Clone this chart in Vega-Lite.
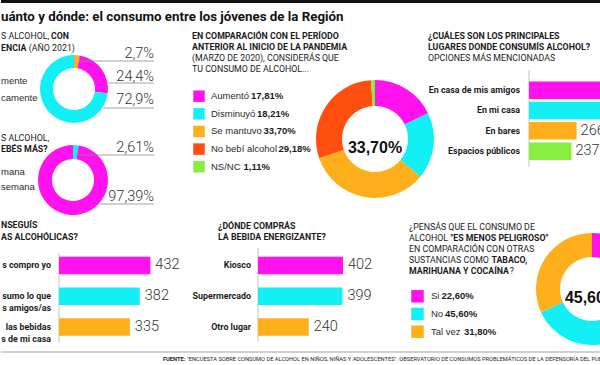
{
"$schema": "https://vega.github.io/schema/vega-lite/v6.json",
"padding": 0,
"background": "#ffffff",
"spacing": 0,
"config": {
 "view": {"stroke": null},
 "axis": {"disable": true},
 "legend": {"disable": true},
 "locale": {"number": {"decimal": ",", "thousands": ".", "grouping": [3], "currency": ["", "%"]}},
 "text": {"align": "left", "baseline": "middle", "color": "#1c1c1c", "font": "Roboto", "fontSize": 8.8},
 "concat": {"spacing": 0}
},
"datasets": {
 "one": [{}],
 "frecuencia": [{"i":1,"cat":"otra","pct":2.7},{"i":2,"cat":"mente","pct":24.4},{"i":3,"cat":"camente","pct":72.9}],
 "cuando": [{"i":1,"cat":"mana","pct":2.61},{"i":2,"cat":"semana","pct":97.39}],
 "pandemia": [{"i":1,"cat":"Aumentó","pct":17.81},{"i":2,"cat":"Disminuyó","pct":18.21},{"i":3,"cat":"Se mantuvo","pct":33.70},{"i":4,"cat":"No bebí alcohol","pct":29.18},{"i":5,"cat":"NS/NC","pct":1.11}],
 "lugares": [{"i":1,"cat":"En casa de mis amigos","n":512},{"i":2,"cat":"En mi casa","n":468},{"i":3,"cat":"En bares","n":266},{"i":4,"cat":"Espacios públicos","n":237}],
 "consigue": [{"i":1,"cat":"s compro yo","n":432},{"i":2,"cat":"sumo lo que\ns amigos/as","n":382},{"i":3,"cat":"las bebidas\ns de mi casa","n":335}],
 "energizante": [{"i":1,"cat":"Kiosco","n":402},{"i":2,"cat":"Supermercado","n":399},{"i":3,"cat":"Otro lugar","n":240}],
 "peligro": [{"i":1,"cat":"Si","pct":22.6},{"i":2,"cat":"No","pct":45.6},{"i":3,"cat":"Tal vez","pct":31.8}]
},
"vconcat": [
 {"width": 600, "height": 28, "data": {"name": "one"},
  "layer": [
   {"mark": {"type": "rect", "color": "#111111"},
    "encoding": {"x": {"datum": 0, "type": "quantitative", "scale": {"domain": [0,600], "nice": false, "zero": false}}, "x2": {"datum": 600},
                 "y": {"datum": 0, "type": "quantitative", "scale": {"domain": [0,28], "nice": false, "zero": false, "reverse": true}}, "y2": {"datum": 3}}},
   {"mark": {"type": "text", "text": "uánto y dónde: el consumo entre los jóvenes de la Región", "fontWeight": "bold", "fontSize": 13.3, "color": "#111111"},
    "encoding": {"x": {"datum": 0, "type": "quantitative", "scale": {"domain": [0,600], "nice": false, "zero": false}},
                 "y": {"datum": 17, "type": "quantitative", "scale": {"domain": [0,28], "nice": false, "zero": false, "reverse": true}}}}
  ]},
 {"hconcat": [
   {"width": 183, "height": 190, "data": {"name": "one"},
    "resolve": {"scale": {"color": "independent", "theta": "independent"}},
    "layer": [
     {"mark": {"type": "text", "text": "S ALCOHOL,"}, "encoding": {"x": {"datum": 0, "type": "quantitative", "scale": {"domain": [0,183], "nice": false, "zero": false}}, "y": {"datum": 8, "type": "quantitative", "scale": {"domain": [0,190], "nice": false, "zero": false, "reverse": true}}}},
     {"mark": {"type": "text", "text": "CON", "fontWeight": "bold"}, "encoding": {"x": {"datum": 50, "type": "quantitative", "scale": {"domain": [0,183], "nice": false, "zero": false}}, "y": {"datum": 8, "type": "quantitative", "scale": {"domain": [0,190], "nice": false, "zero": false, "reverse": true}}}},
     {"mark": {"type": "text", "text": "ENCIA", "fontWeight": "bold"}, "encoding": {"x": {"datum": 0, "type": "quantitative", "scale": {"domain": [0,183], "nice": false, "zero": false}}, "y": {"datum": 20, "type": "quantitative", "scale": {"domain": [0,190], "nice": false, "zero": false, "reverse": true}}}},
     {"mark": {"type": "text", "text": "(AÑO 2021)"}, "encoding": {"x": {"datum": 27.8, "type": "quantitative", "scale": {"domain": [0,183], "nice": false, "zero": false}}, "y": {"datum": 20, "type": "quantitative", "scale": {"domain": [0,190], "nice": false, "zero": false, "reverse": true}}}},
     {"data": {"name": "frecuencia"}, "mark": {"type": "arc", "outerRadius": 34, "innerRadius": 21},
      "encoding": {"x": {"datum": 73, "type": "quantitative", "scale": {"domain": [0,183], "nice": false, "zero": false}}, "y": {"datum": 61, "type": "quantitative", "scale": {"domain": [0,190], "nice": false, "zero": false, "reverse": true}},
       "theta": {"field": "pct", "type": "quantitative", "stack": true}, "order": {"field": "i", "type": "quantitative"},
       "color": {"field": "cat", "type": "nominal", "scale": {"domain": ["otra","mente","camente"], "range": ["#FFAE1C","#FF12EE","#12F0F6"]}}}},
     {"data": {"name": "frecuencia"}, "transform": [{"filter": "datum.i == 2"}], "mark": {"type": "text", "font": "Liberation Sans", "fontSize": 9.5, "color": "#2a2a2a"}, "encoding": {"x": {"datum": 0, "type": "quantitative", "scale": {"domain": [0,183], "nice": false, "zero": false}}, "y": {"datum": 53, "type": "quantitative", "scale": {"domain": [0,190], "nice": false, "zero": false, "reverse": true}}, "text": {"field": "cat"}}},
     {"data": {"name": "frecuencia"}, "transform": [{"filter": "datum.i == 3"}], "mark": {"type": "text", "font": "Liberation Sans", "fontSize": 9.5, "color": "#2a2a2a"}, "encoding": {"x": {"datum": 0, "type": "quantitative", "scale": {"domain": [0,183], "nice": false, "zero": false}}, "y": {"datum": 70, "type": "quantitative", "scale": {"domain": [0,190], "nice": false, "zero": false, "reverse": true}}, "text": {"field": "cat"}}},
     {"data": {"name": "frecuencia"}, "transform": [{"filter": "datum.i == 1"}], "mark": {"type": "text", "font": "Roboto", "fontWeight": 300, "fontSize": 14.5, "align": "right", "color": "#333333"}, "encoding": {"x": {"datum": 153, "type": "quantitative", "scale": {"domain": [0,183], "nice": false, "zero": false}}, "y": {"datum": 26, "type": "quantitative", "scale": {"domain": [0,190], "nice": false, "zero": false, "reverse": true}}, "text": {"field": "pct", "type": "quantitative", "format": "$.1f"}}},
     {"data": {"name": "frecuencia"}, "transform": [{"filter": "datum.i == 2"}], "mark": {"type": "text", "font": "Roboto", "fontWeight": 300, "fontSize": 14.5, "align": "right", "color": "#333333"}, "encoding": {"x": {"datum": 153, "type": "quantitative", "scale": {"domain": [0,183], "nice": false, "zero": false}}, "y": {"datum": 49, "type": "quantitative", "scale": {"domain": [0,190], "nice": false, "zero": false, "reverse": true}}, "text": {"field": "pct", "type": "quantitative", "format": "$.1f"}}},
     {"data": {"name": "frecuencia"}, "transform": [{"filter": "datum.i == 3"}], "mark": {"type": "text", "font": "Roboto", "fontWeight": 300, "fontSize": 14.5, "align": "right", "color": "#333333"}, "encoding": {"x": {"datum": 153, "type": "quantitative", "scale": {"domain": [0,183], "nice": false, "zero": false}}, "y": {"datum": 72, "type": "quantitative", "scale": {"domain": [0,190], "nice": false, "zero": false, "reverse": true}}, "text": {"field": "pct", "type": "quantitative", "format": "$.1f"}}},
     {"mark": {"type": "rule", "color": "#8c8c8c", "strokeWidth": 0.8}, "encoding": {"x": {"datum": 78, "type": "quantitative", "scale": {"domain": [0,183], "nice": false, "zero": false}}, "x2": {"datum": 153}, "y": {"datum": 33, "type": "quantitative", "scale": {"domain": [0,190], "nice": false, "zero": false, "reverse": true}}}},
     {"mark": {"type": "rule", "color": "#8c8c8c", "strokeWidth": 0.8}, "encoding": {"x": {"datum": 107, "type": "quantitative", "scale": {"domain": [0,183], "nice": false, "zero": false}}, "x2": {"datum": 153}, "y": {"datum": 55, "type": "quantitative", "scale": {"domain": [0,190], "nice": false, "zero": false, "reverse": true}}}},
     {"mark": {"type": "rule", "color": "#8c8c8c", "strokeWidth": 0.8}, "encoding": {"x": {"datum": 102, "type": "quantitative", "scale": {"domain": [0,183], "nice": false, "zero": false}}, "x2": {"datum": 153}, "y": {"datum": 80, "type": "quantitative", "scale": {"domain": [0,190], "nice": false, "zero": false, "reverse": true}}}},
     {"mark": {"type": "text", "text": "S ALCOHOL,"}, "encoding": {"x": {"datum": 0, "type": "quantitative", "scale": {"domain": [0,183], "nice": false, "zero": false}}, "y": {"datum": 110, "type": "quantitative", "scale": {"domain": [0,190], "nice": false, "zero": false, "reverse": true}}}},
     {"mark": {"type": "text", "text": "EBÉS MÁS?", "fontWeight": "bold"}, "encoding": {"x": {"datum": 0, "type": "quantitative", "scale": {"domain": [0,183], "nice": false, "zero": false}}, "y": {"datum": 121, "type": "quantitative", "scale": {"domain": [0,190], "nice": false, "zero": false, "reverse": true}}}},
     {"data": {"name": "cuando"}, "mark": {"type": "arc", "outerRadius": 35, "innerRadius": 21},
      "encoding": {"x": {"datum": 72, "type": "quantitative", "scale": {"domain": [0,183], "nice": false, "zero": false}}, "y": {"datum": 152, "type": "quantitative", "scale": {"domain": [0,190], "nice": false, "zero": false, "reverse": true}},
       "theta": {"field": "pct", "type": "quantitative", "stack": true}, "order": {"field": "i", "type": "quantitative"},
       "color": {"field": "cat", "type": "nominal", "scale": {"domain": ["mana","semana"], "range": ["#12F0F6","#FF12EE"]}}}},
     {"data": {"name": "cuando"}, "transform": [{"filter": "datum.i == 1"}], "mark": {"type": "text", "font": "Liberation Sans", "fontSize": 9.5, "color": "#2a2a2a"}, "encoding": {"x": {"datum": 0, "type": "quantitative", "scale": {"domain": [0,183], "nice": false, "zero": false}}, "y": {"datum": 144, "type": "quantitative", "scale": {"domain": [0,190], "nice": false, "zero": false, "reverse": true}}, "text": {"field": "cat"}}},
     {"data": {"name": "cuando"}, "transform": [{"filter": "datum.i == 2"}], "mark": {"type": "text", "font": "Liberation Sans", "fontSize": 9.5, "color": "#2a2a2a"}, "encoding": {"x": {"datum": 0, "type": "quantitative", "scale": {"domain": [0,183], "nice": false, "zero": false}}, "y": {"datum": 159, "type": "quantitative", "scale": {"domain": [0,190], "nice": false, "zero": false, "reverse": true}}, "text": {"field": "cat"}}},
     {"data": {"name": "cuando"}, "transform": [{"filter": "datum.i == 1"}], "mark": {"type": "text", "font": "Roboto", "fontWeight": 300, "fontSize": 14.5, "align": "right", "color": "#333333"}, "encoding": {"x": {"datum": 153, "type": "quantitative", "scale": {"domain": [0,183], "nice": false, "zero": false}}, "y": {"datum": 120, "type": "quantitative", "scale": {"domain": [0,190], "nice": false, "zero": false, "reverse": true}}, "text": {"field": "pct", "type": "quantitative", "format": "$.2f"}}},
     {"data": {"name": "cuando"}, "transform": [{"filter": "datum.i == 2"}], "mark": {"type": "text", "font": "Roboto", "fontWeight": 300, "fontSize": 14.5, "align": "right", "color": "#333333"}, "encoding": {"x": {"datum": 153, "type": "quantitative", "scale": {"domain": [0,183], "nice": false, "zero": false}}, "y": {"datum": 169, "type": "quantitative", "scale": {"domain": [0,190], "nice": false, "zero": false, "reverse": true}}, "text": {"field": "pct", "type": "quantitative", "format": "$.2f"}}},
     {"mark": {"type": "rule", "color": "#8c8c8c", "strokeWidth": 0.8}, "encoding": {"x": {"datum": 77, "type": "quantitative", "scale": {"domain": [0,183], "nice": false, "zero": false}}, "x2": {"datum": 153}, "y": {"datum": 127, "type": "quantitative", "scale": {"domain": [0,190], "nice": false, "zero": false, "reverse": true}}}},
     {"mark": {"type": "rule", "color": "#8c8c8c", "strokeWidth": 0.8}, "encoding": {"x": {"datum": 98, "type": "quantitative", "scale": {"domain": [0,183], "nice": false, "zero": false}}, "x2": {"datum": 153}, "y": {"datum": 176, "type": "quantitative", "scale": {"domain": [0,190], "nice": false, "zero": false, "reverse": true}}}}
    ]},
   {"width": 215, "height": 190,
    "resolve": {"scale": {"x": "independent", "y": "independent", "color": "independent", "theta": "independent"}},
    "layer": [
     {"data": {"name": "one"},
      "layer": [
       {"mark": {"type": "text", "text": "EN COMPARACIÓN CON EL PERÍODO", "fontWeight": "bold"}, "encoding": {"x": {"datum": 8, "type": "quantitative", "scale": {"domain": [0,215], "nice": false, "zero": false}}, "y": {"datum": 8, "type": "quantitative", "scale": {"domain": [0,190], "nice": false, "zero": false, "reverse": true}}}},
       {"mark": {"type": "text", "text": "ANTERIOR AL INICIO DE LA PANDEMIA", "fontWeight": "bold"}, "encoding": {"x": {"datum": 8, "type": "quantitative", "scale": {"domain": [0,215], "nice": false, "zero": false}}, "y": {"datum": 18.7, "type": "quantitative", "scale": {"domain": [0,190], "nice": false, "zero": false, "reverse": true}}}},
       {"mark": {"type": "text", "text": "(MARZO DE 2020), CONSIDERÁS QUE"}, "encoding": {"x": {"datum": 8, "type": "quantitative", "scale": {"domain": [0,215], "nice": false, "zero": false}}, "y": {"datum": 30.3, "type": "quantitative", "scale": {"domain": [0,190], "nice": false, "zero": false, "reverse": true}}}},
       {"mark": {"type": "text", "text": "TU CONSUMO DE ALCOHOL..."}, "encoding": {"x": {"datum": 8, "type": "quantitative", "scale": {"domain": [0,215], "nice": false, "zero": false}}, "y": {"datum": 41.3, "type": "quantitative", "scale": {"domain": [0,190], "nice": false, "zero": false, "reverse": true}}}},
       {"data": {"name": "pandemia"}, "mark": {"type": "arc", "outerRadius": 59, "innerRadius": 33},
        "encoding": {"x": {"datum": 191, "type": "quantitative", "scale": {"domain": [0,215], "nice": false, "zero": false}}, "y": {"datum": 111, "type": "quantitative", "scale": {"domain": [0,190], "nice": false, "zero": false, "reverse": true}},
         "theta": {"field": "pct", "type": "quantitative", "stack": true}, "order": {"field": "i", "type": "quantitative"},
         "color": {"field": "cat", "type": "nominal", "scale": {"domain": ["Aumentó","Disminuyó","Se mantuvo","No bebí alcohol","NS/NC"], "range": ["#FF12EE","#12F0F6","#FFAE1C","#FF4E10","#85EE3F"]}}}},
       {"data": {"name": "pandemia"}, "transform": [{"filter": "datum.i == 3"}], "mark": {"type": "text", "font": "Liberation Sans", "fontWeight": "bold", "fontSize": 16, "align": "center", "color": "#111111"}, "encoding": {"x": {"datum": 191, "type": "quantitative", "scale": {"domain": [0,215], "nice": false, "zero": false}}, "y": {"datum": 120, "type": "quantitative", "scale": {"domain": [0,190], "nice": false, "zero": false, "reverse": true}}, "text": {"field": "pct", "type": "quantitative", "format": "$.2f"}}}
      ]},
     {"data": {"name": "pandemia"},
      "encoding": {"y": {"field": "i", "type": "quantitative", "scale": {"domain": [-2.870, 7.911], "nice": false, "zero": false, "reverse": true}}},
      "layer": [
       {"mark": {"type": "point", "shape": "square", "filled": true, "opacity": 1, "size": 132, "strokeWidth": 0},
        "encoding": {"x": {"datum": 15, "type": "quantitative", "scale": {"domain": [0,215], "nice": false, "zero": false}},
         "color": {"field": "cat", "type": "nominal", "scale": {"domain": ["Aumentó","Disminuyó","Se mantuvo","No bebí alcohol","NS/NC"], "range": ["#FF12EE","#12F0F6","#FFAE1C","#FF4E10","#85EE3F"]}}}},
       {"mark": {"type": "text", "font": "Liberation Sans", "fontSize": 9.5, "color": "#2a2a2a"}, "encoding": {"x": {"datum": 27, "type": "quantitative", "scale": {"domain": [0,215], "nice": false, "zero": false}}, "text": {"field": "cat"}}},
       {"transform": [{"filter": "datum.i == 1"}], "mark": {"type": "text", "font": "Liberation Sans", "fontWeight": "bold", "fontSize": 9.5}, "encoding": {"x": {"datum": 67, "type": "quantitative", "scale": {"domain": [0,215], "nice": false, "zero": false}}, "text": {"field": "pct", "type": "quantitative", "format": "$.2f"}}},
       {"transform": [{"filter": "datum.i == 2"}], "mark": {"type": "text", "font": "Liberation Sans", "fontWeight": "bold", "fontSize": 9.5}, "encoding": {"x": {"datum": 73, "type": "quantitative", "scale": {"domain": [0,215], "nice": false, "zero": false}}, "text": {"field": "pct", "type": "quantitative", "format": "$.2f"}}},
       {"transform": [{"filter": "datum.i == 3"}], "mark": {"type": "text", "font": "Liberation Sans", "fontWeight": "bold", "fontSize": 9.5}, "encoding": {"x": {"datum": 79.5, "type": "quantitative", "scale": {"domain": [0,215], "nice": false, "zero": false}}, "text": {"field": "pct", "type": "quantitative", "format": "$.2f"}}},
       {"transform": [{"filter": "datum.i == 4"}], "mark": {"type": "text", "font": "Liberation Sans", "fontWeight": "bold", "fontSize": 9.5}, "encoding": {"x": {"datum": 94.5, "type": "quantitative", "scale": {"domain": [0,215], "nice": false, "zero": false}}, "text": {"field": "pct", "type": "quantitative", "format": "$.2f"}}},
       {"transform": [{"filter": "datum.i == 5"}], "mark": {"type": "text", "font": "Liberation Sans", "fontWeight": "bold", "fontSize": 9.5}, "encoding": {"x": {"datum": 59.5, "type": "quantitative", "scale": {"domain": [0,215], "nice": false, "zero": false}}, "text": {"field": "pct", "type": "quantitative", "format": "$.2f"}}}
      ]}
    ]},
   {"width": 202, "height": 190,
    "resolve": {"scale": {"x": "independent", "y": "independent", "color": "independent"}},
    "layer": [
     {"data": {"name": "one"},
      "layer": [
       {"mark": {"type": "text", "text": "¿CUÁLES SON LOS PRINCIPALES", "fontWeight": "bold"}, "encoding": {"x": {"datum": 29, "type": "quantitative", "scale": {"domain": [0,202], "nice": false, "zero": false}}, "y": {"datum": 8, "type": "quantitative", "scale": {"domain": [0,190], "nice": false, "zero": false, "reverse": true}}}},
       {"mark": {"type": "text", "text": "LUGARES DONDE CONSUMÍS ALCOHOL?", "fontWeight": "bold"}, "encoding": {"x": {"datum": 29, "type": "quantitative", "scale": {"domain": [0,202], "nice": false, "zero": false}}, "y": {"datum": 18.7, "type": "quantitative", "scale": {"domain": [0,190], "nice": false, "zero": false, "reverse": true}}}},
       {"mark": {"type": "text", "text": "OPCIONES MÁS MENCIONADAS"}, "encoding": {"x": {"datum": 29, "type": "quantitative", "scale": {"domain": [0,202], "nice": false, "zero": false}}, "y": {"datum": 29.7, "type": "quantitative", "scale": {"domain": [0,190], "nice": false, "zero": false, "reverse": true}}}},
       {"mark": {"type": "rule", "color": "#c4c4c4", "strokeWidth": 1}, "encoding": {"x": {"datum": 130, "type": "quantitative", "scale": {"domain": [0,202], "nice": false, "zero": false}}, "y": {"datum": 42, "type": "quantitative", "scale": {"domain": [0,190], "nice": false, "zero": false, "reverse": true}}, "y2": {"datum": 139}}}
      ]},
     {"data": {"name": "lugares"},
      "encoding": {
       "y": {"field": "i", "type": "quantitative", "scale": {"domain": [-1.805, 7.033], "nice": false, "zero": false, "reverse": true}},
       "x": {"field": "n", "type": "quantitative", "stack": null, "scale": {"domain": [-726.3, 402.2], "nice": false, "zero": false}}},
      "layer": [
       {"mark": {"type": "bar", "clip": true, "orient": "horizontal", "size": 17.5}, "encoding": {"x2": {"datum": 0},
         "color": {"field": "cat", "type": "nominal", "scale": {"domain": ["En casa de mis amigos","En mi casa","En bares","Espacios públicos"], "range": ["#FF12EE","#12F0F6","#FFAE1C","#85EE3F"]}}}},
       {"mark": {"type": "text", "font": "Roboto", "fontWeight": 300, "fontSize": 14.5, "color": "#333333", "dx": 4, "clip": true}, "encoding": {"text": {"field": "n", "type": "quantitative"}}},
       {"mark": {"type": "text", "fontWeight": "bold", "align": "right", "fontSize": 8.9}, "encoding": {"x": {"datum": -50.3, "type": "quantitative", "scale": {"domain": [-726.3, 402.2], "nice": false, "zero": false}}, "text": {"field": "cat"}}}
      ]}
    ]}
  ], "spacing": 0, "bounds": "flush", "resolve": {"scale": {"color": "independent", "theta": "independent"}}},
 {"hconcat": [
   {"width": 183, "height": 127,
    "resolve": {"scale": {"x": "independent", "y": "independent", "color": "independent"}},
    "layer": [
     {"data": {"name": "one"},
      "layer": [
       {"mark": {"type": "text", "text": "NSEGUÍS", "fontWeight": "bold"}, "encoding": {"x": {"datum": 0, "type": "quantitative", "scale": {"domain": [0,183], "nice": false, "zero": false}}, "y": {"datum": 7, "type": "quantitative", "scale": {"domain": [0,127], "nice": false, "zero": false, "reverse": true}}}},
       {"mark": {"type": "text", "text": "AS ALCOHÓLICAS?", "fontWeight": "bold"}, "encoding": {"x": {"datum": 0, "type": "quantitative", "scale": {"domain": [0,183], "nice": false, "zero": false}}, "y": {"datum": 19.3, "type": "quantitative", "scale": {"domain": [0,127], "nice": false, "zero": false, "reverse": true}}}},
       {"mark": {"type": "rule", "color": "#c4c4c4", "strokeWidth": 1}, "encoding": {"x": {"datum": 58, "type": "quantitative", "scale": {"domain": [0,183], "nice": false, "zero": false}}, "y": {"datum": 35, "type": "quantitative", "scale": {"domain": [0,127], "nice": false, "zero": false, "reverse": true}}, "y2": {"datum": 125}}}
      ]},
     {"data": {"name": "consigue"},
      "encoding": {
       "y": {"field": "cat", "type": "nominal", "scale": {"type": "band", "domain": ["s compro yo","sumo lo que\ns amigos/as","las bebidas\ns de mi casa"], "paddingInner": 0.431, "paddingOuter": 0.78, "align": 0.807}},
       "x": {"field": "n", "type": "quantitative", "stack": null, "scale": {"domain": [-274.2, 591.0], "nice": false, "zero": false}}},
      "layer": [
       {"mark": {"type": "bar"}, "encoding": {"x2": {"datum": 0},
         "color": {"field": "cat", "type": "nominal", "scale": {"domain": ["s compro yo","sumo lo que\ns amigos/as","las bebidas\ns de mi casa"], "range": ["#FF12EE","#12F0F6","#FFAE1C"]}}}},
       {"mark": {"type": "text", "font": "Roboto", "fontWeight": 300, "fontSize": 14.5, "color": "#333333", "dx": 5}, "encoding": {"text": {"field": "n", "type": "quantitative"}}},
       {"mark": {"type": "text", "fontWeight": "bold", "align": "right", "fontSize": 8.9, "lineBreak": "\n", "lineHeight": 12, "clip": true}, "encoding": {"x": {"datum": -37.8, "type": "quantitative", "scale": {"domain": [-274.2, 591.0], "nice": false, "zero": false}}, "text": {"field": "cat"}}}
      ]}
    ]},
   {"width": 215, "height": 127,
    "resolve": {"scale": {"x": "independent", "y": "independent", "color": "independent"}},
    "layer": [
     {"data": {"name": "one"},
      "layer": [
       {"mark": {"type": "text", "text": "¿DÓNDE COMPRÁS", "fontWeight": "bold"}, "encoding": {"x": {"datum": 34, "type": "quantitative", "scale": {"domain": [0,215], "nice": false, "zero": false}}, "y": {"datum": 8, "type": "quantitative", "scale": {"domain": [0,127], "nice": false, "zero": false, "reverse": true}}}},
       {"mark": {"type": "text", "text": "LA BEBIDA ENERGIZANTE?", "fontWeight": "bold"}, "encoding": {"x": {"datum": 34, "type": "quantitative", "scale": {"domain": [0,215], "nice": false, "zero": false}}, "y": {"datum": 19.3, "type": "quantitative", "scale": {"domain": [0,127], "nice": false, "zero": false, "reverse": true}}}},
       {"mark": {"type": "rule", "color": "#c4c4c4", "strokeWidth": 1}, "encoding": {"x": {"datum": 74, "type": "quantitative", "scale": {"domain": [0,215], "nice": false, "zero": false}}, "y": {"datum": 30, "type": "quantitative", "scale": {"domain": [0,127], "nice": false, "zero": false, "reverse": true}}, "y2": {"datum": 124}}}
      ]},
     {"data": {"name": "energizante"},
      "encoding": {
       "y": {"field": "cat", "type": "nominal", "scale": {"type": "band", "domain": ["Kiosco","Supermercado","Otro lugar"], "paddingInner": 0.431, "paddingOuter": 0.78, "align": 0.807}},
       "x": {"field": "n", "type": "quantitative", "stack": null, "scale": {"domain": [-349.9, 666.7], "nice": false, "zero": false}}},
      "layer": [
       {"mark": {"type": "bar"}, "encoding": {"x2": {"datum": 0},
         "color": {"field": "cat", "type": "nominal", "scale": {"domain": ["Kiosco","Supermercado","Otro lugar"], "range": ["#FF12EE","#12F0F6","#FFAE1C"]}}}},
       {"mark": {"type": "text", "font": "Roboto", "fontWeight": 300, "fontSize": 14.5, "color": "#333333", "dx": 5}, "encoding": {"text": {"field": "n", "type": "quantitative"}}},
       {"mark": {"type": "text", "fontWeight": "bold", "align": "right", "fontSize": 8.9}, "encoding": {"x": {"datum": -33.1, "type": "quantitative", "scale": {"domain": [-349.9, 666.7], "nice": false, "zero": false}}, "text": {"field": "cat"}}}
      ]}
    ]},
   {"width": 202, "height": 127,
    "resolve": {"scale": {"x": "independent", "y": "independent", "color": "independent", "theta": "independent"}},
    "layer": [
     {"data": {"name": "one"},
      "layer": [
       {"mark": {"type": "text", "text": "¿PENSÁS QUE EL CONSUMO DE"}, "encoding": {"x": {"datum": 10, "type": "quantitative", "scale": {"domain": [0,202], "nice": false, "zero": false}}, "y": {"datum": 8.7, "type": "quantitative", "scale": {"domain": [0,127], "nice": false, "zero": false, "reverse": true}}}},
       {"mark": {"type": "text", "text": "ALCOHOL"}, "encoding": {"x": {"datum": 10, "type": "quantitative", "scale": {"domain": [0,202], "nice": false, "zero": false}}, "y": {"datum": 20.3, "type": "quantitative", "scale": {"domain": [0,127], "nice": false, "zero": false, "reverse": true}}}},
       {"mark": {"type": "text", "text": "\"ES MENOS PELIGROSO\"", "fontWeight": "bold"}, "encoding": {"x": {"datum": 51.5, "type": "quantitative", "scale": {"domain": [0,202], "nice": false, "zero": false}}, "y": {"datum": 20.3, "type": "quantitative", "scale": {"domain": [0,127], "nice": false, "zero": false, "reverse": true}}}},
       {"mark": {"type": "text", "text": "EN COMPARACIÓN CON OTRAS"}, "encoding": {"x": {"datum": 10, "type": "quantitative", "scale": {"domain": [0,202], "nice": false, "zero": false}}, "y": {"datum": 31.3, "type": "quantitative", "scale": {"domain": [0,127], "nice": false, "zero": false, "reverse": true}}}},
       {"mark": {"type": "text", "text": "SUSTANCIAS COMO"}, "encoding": {"x": {"datum": 10, "type": "quantitative", "scale": {"domain": [0,202], "nice": false, "zero": false}}, "y": {"datum": 42, "type": "quantitative", "scale": {"domain": [0,127], "nice": false, "zero": false, "reverse": true}}}},
       {"mark": {"type": "text", "text": "TABACO,", "fontWeight": "bold"}, "encoding": {"x": {"datum": 92.4, "type": "quantitative", "scale": {"domain": [0,202], "nice": false, "zero": false}}, "y": {"datum": 42, "type": "quantitative", "scale": {"domain": [0,127], "nice": false, "zero": false, "reverse": true}}}},
       {"mark": {"type": "text", "text": "MARIHUANA Y COCAÍNA", "fontWeight": "bold"}, "encoding": {"x": {"datum": 10, "type": "quantitative", "scale": {"domain": [0,202], "nice": false, "zero": false}}, "y": {"datum": 53, "type": "quantitative", "scale": {"domain": [0,127], "nice": false, "zero": false, "reverse": true}}}},
       {"mark": {"type": "text", "text": "?"}, "encoding": {"x": {"datum": 110.7, "type": "quantitative", "scale": {"domain": [0,202], "nice": false, "zero": false}}, "y": {"datum": 53, "type": "quantitative", "scale": {"domain": [0,127], "nice": false, "zero": false, "reverse": true}}}},
       {"data": {"name": "peligro"}, "mark": {"type": "arc", "outerRadius": 56, "innerRadius": 32, "clip": true},
        "encoding": {"x": {"datum": 193, "type": "quantitative", "scale": {"domain": [0,202], "nice": false, "zero": false}}, "y": {"datum": 71, "type": "quantitative", "scale": {"domain": [0,127], "nice": false, "zero": false, "reverse": true}},
         "theta": {"field": "pct", "type": "quantitative", "stack": true}, "order": {"field": "i", "type": "quantitative"},
         "color": {"field": "cat", "type": "nominal", "scale": {"domain": ["Si","No","Tal vez"], "range": ["#FF12EE","#12F0F6","#FFAE1C"]}}}},
       {"data": {"name": "peligro"}, "transform": [{"filter": "datum.i == 2"}], "mark": {"type": "text", "font": "Liberation Sans", "fontWeight": "bold", "fontSize": 16, "align": "center", "color": "#111111", "clip": true}, "encoding": {"x": {"datum": 193, "type": "quantitative", "scale": {"domain": [0,202], "nice": false, "zero": false}}, "y": {"datum": 80, "type": "quantitative", "scale": {"domain": [0,127], "nice": false, "zero": false, "reverse": true}}, "text": {"field": "pct", "type": "quantitative", "format": "$.2f"}}}
      ]},
     {"data": {"name": "peligro"},
      "encoding": {"y": {"field": "i", "type": "quantitative", "scale": {"domain": [-3.424, 3.751], "nice": false, "zero": false, "reverse": true}}},
      "layer": [
       {"mark": {"type": "point", "shape": "square", "filled": true, "opacity": 1, "size": 156, "strokeWidth": 0},
        "encoding": {"x": {"datum": 18.5, "type": "quantitative", "scale": {"domain": [0,202], "nice": false, "zero": false}},
         "color": {"field": "cat", "type": "nominal", "scale": {"domain": ["Si","No","Tal vez"], "range": ["#FF12EE","#12F0F6","#FFAE1C"]}}}},
       {"mark": {"type": "text", "font": "Liberation Sans", "fontSize": 9.5, "color": "#2a2a2a"}, "encoding": {"x": {"datum": 32, "type": "quantitative", "scale": {"domain": [0,202], "nice": false, "zero": false}}, "text": {"field": "cat"}}},
       {"transform": [{"filter": "datum.i == 1"}], "mark": {"type": "text", "font": "Liberation Sans", "fontWeight": "bold", "fontSize": 9.5}, "encoding": {"x": {"datum": 42.5, "type": "quantitative", "scale": {"domain": [0,202], "nice": false, "zero": false}}, "text": {"field": "pct", "type": "quantitative", "format": "$.2f"}}},
       {"transform": [{"filter": "datum.i == 2"}], "mark": {"type": "text", "font": "Liberation Sans", "fontWeight": "bold", "fontSize": 9.5}, "encoding": {"x": {"datum": 46, "type": "quantitative", "scale": {"domain": [0,202], "nice": false, "zero": false}}, "text": {"field": "pct", "type": "quantitative", "format": "$.2f"}}},
       {"transform": [{"filter": "datum.i == 3"}], "mark": {"type": "text", "font": "Liberation Sans", "fontWeight": "bold", "fontSize": 9.5}, "encoding": {"x": {"datum": 65, "type": "quantitative", "scale": {"domain": [0,202], "nice": false, "zero": false}}, "text": {"field": "pct", "type": "quantitative", "format": "$.2f"}}}
      ]}
    ]}
  ], "spacing": 0, "bounds": "flush", "resolve": {"scale": {"color": "independent", "theta": "independent"}}},
 {"width": 600, "height": 20, "data": {"name": "one"},
  "layer": [
   {"mark": {"type": "rule", "color": "#8c8c8c", "strokeWidth": 0.8}, "encoding": {"y": {"datum": 7, "type": "quantitative", "scale": {"domain": [0,20], "nice": false, "zero": false, "reverse": true}}}},
   {"mark": {"type": "text", "text": "FUENTE:", "fontWeight": "bold", "fontSize": 5.7}, "encoding": {"x": {"datum": 162, "type": "quantitative", "scale": {"domain": [0,600], "nice": false, "zero": false}}, "y": {"datum": 14, "type": "quantitative", "scale": {"domain": [0,20], "nice": false, "zero": false, "reverse": true}}}},
   {"mark": {"type": "text", "text": "\"ENCUESTA SOBRE CONSUMO DE ALCOHOL EN NIÑOS, NIÑAS Y ADOLESCENTES\".  OBSERVATORIO DE CONSUMOS PROBLEMÁTICOS DE LA DEFENSORÍA DEL PUEBLO BONAERENSE", "fontSize": 5.7, "clip": true}, "encoding": {"x": {"datum": 186, "type": "quantitative", "scale": {"domain": [0,600], "nice": false, "zero": false}}, "y": {"datum": 14, "type": "quantitative", "scale": {"domain": [0,20], "nice": false, "zero": false, "reverse": true}}}}
  ]}
],
"resolve": {"scale": {"color": "independent", "theta": "independent"}}
}
